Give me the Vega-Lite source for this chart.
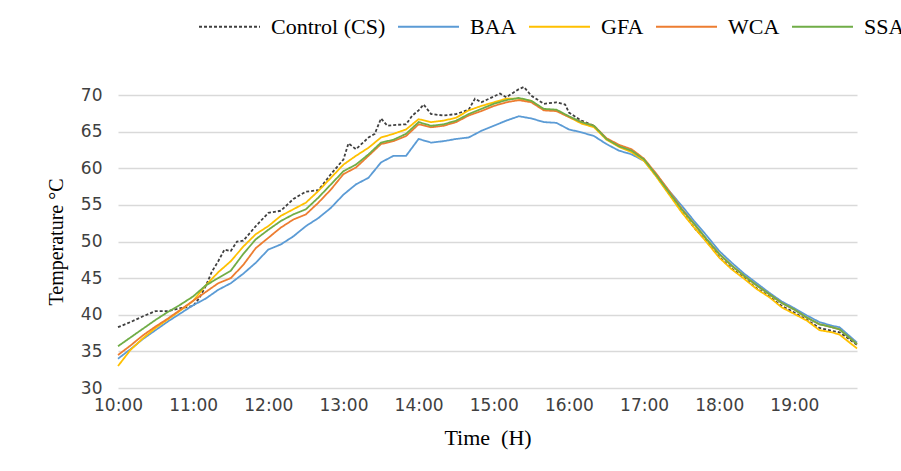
{
  "$schema": "https://vega.github.io/schema/vega-lite/v6.json",
  "width": 739,
  "height": 293,
  "autosize": {"type": "none"},
  "padding": {"left": 118, "top": 95, "right": 44, "bottom": 83},
  "background": "white",
  "config": {
    "view": {"stroke": null}
  },
  "data": {
    "values": [
      {"t": "2020-01-01T10:00", "CS": 38.3, "BAA": 34.0, "GFA": 33.0, "WCA": 34.5, "SSA": 35.7},
      {"t": "2020-01-01T10:10", "CS": 39.0, "BAA": 35.3, "GFA": 35.2, "WCA": 35.8, "SSA": 36.9},
      {"t": "2020-01-01T10:20", "CS": 39.8, "BAA": 36.7, "GFA": 36.8, "WCA": 37.2, "SSA": 38.1},
      {"t": "2020-01-01T10:30", "CS": 40.5, "BAA": 37.9, "GFA": 38.2, "WCA": 38.4, "SSA": 39.3},
      {"t": "2020-01-01T10:40", "CS": 40.5, "BAA": 39.1, "GFA": 39.4, "WCA": 39.5, "SSA": 40.4},
      {"t": "2020-01-01T10:50", "CS": 40.9, "BAA": 40.2, "GFA": 40.6, "WCA": 40.7, "SSA": 41.4},
      {"t": "2020-01-01T11:00", "CS": 41.2, "BAA": 41.3, "GFA": 41.9, "WCA": 41.9, "SSA": 42.5},
      {"t": "2020-01-01T11:05", "CS": 42.3},
      {"t": "2020-01-01T11:10", "CS": 43.9, "BAA": 42.2, "GFA": 44.0, "WCA": 43.1, "SSA": 44.0},
      {"t": "2020-01-01T11:15", "CS": 45.9},
      {"t": "2020-01-01T11:20", "CS": 47.3, "BAA": 43.4, "GFA": 45.8, "WCA": 44.3, "SSA": 45.0},
      {"t": "2020-01-01T11:25", "CS": 48.9},
      {"t": "2020-01-01T11:30", "CS": 48.7, "BAA": 44.3, "GFA": 47.3, "WCA": 45.0, "SSA": 46.0},
      {"t": "2020-01-01T11:35", "CS": 50.0},
      {"t": "2020-01-01T11:40", "CS": 50.1, "BAA": 45.6, "GFA": 49.3, "WCA": 46.8, "SSA": 48.3},
      {"t": "2020-01-01T11:50", "CS": 52.1, "BAA": 47.1, "GFA": 51.0, "WCA": 49.1, "SSA": 50.3},
      {"t": "2020-01-01T12:00", "CS": 53.9, "BAA": 48.9, "GFA": 52.1, "WCA": 50.5, "SSA": 51.6},
      {"t": "2020-01-01T12:10", "CS": 54.2, "BAA": 49.6, "GFA": 53.5, "WCA": 51.9, "SSA": 52.8},
      {"t": "2020-01-01T12:20", "CS": 55.8, "BAA": 50.7, "GFA": 54.4, "WCA": 53.0, "SSA": 53.7},
      {"t": "2020-01-01T12:30", "CS": 56.8, "BAA": 52.1, "GFA": 55.3, "WCA": 53.7, "SSA": 54.4},
      {"t": "2020-01-01T12:40", "CS": 57.0, "BAA": 53.2, "GFA": 56.9, "WCA": 55.3, "SSA": 56.0},
      {"t": "2020-01-01T12:50", "CS": 59.2, "BAA": 54.6, "GFA": 58.7, "WCA": 57.1, "SSA": 57.8},
      {"t": "2020-01-01T13:00", "CS": 61.2, "BAA": 56.4, "GFA": 60.5, "WCA": 59.2, "SSA": 59.6},
      {"t": "2020-01-01T13:04", "CS": 63.4},
      {"t": "2020-01-01T13:10", "CS": 62.6, "BAA": 57.8, "GFA": 61.7, "WCA": 60.1, "SSA": 60.5},
      {"t": "2020-01-01T13:20", "CS": 64.2, "BAA": 58.7, "GFA": 62.8, "WCA": 61.7, "SSA": 61.9},
      {"t": "2020-01-01T13:25", "CS": 64.7},
      {"t": "2020-01-01T13:30", "CS": 66.8, "BAA": 60.8, "GFA": 64.2, "WCA": 63.3, "SSA": 63.5},
      {"t": "2020-01-01T13:35", "CS": 65.8},
      {"t": "2020-01-01T13:40", "CS": 65.9, "BAA": 61.7, "GFA": 64.7, "WCA": 63.7, "SSA": 63.9},
      {"t": "2020-01-01T13:50", "CS": 66.0, "BAA": 61.7, "GFA": 65.3, "WCA": 64.4, "SSA": 64.7},
      {"t": "2020-01-01T13:55", "CS": 67.2},
      {"t": "2020-01-01T14:00", "CS": 67.9, "BAA": 64.0, "GFA": 66.7, "WCA": 66.0, "SSA": 66.3},
      {"t": "2020-01-01T14:04", "CS": 68.7},
      {"t": "2020-01-01T14:10", "CS": 67.4, "BAA": 63.5, "GFA": 66.3, "WCA": 65.6, "SSA": 65.8},
      {"t": "2020-01-01T14:20", "CS": 67.2, "BAA": 63.7, "GFA": 66.5, "WCA": 65.8, "SSA": 66.0},
      {"t": "2020-01-01T14:30", "CS": 67.4, "BAA": 64.0, "GFA": 66.9, "WCA": 66.3, "SSA": 66.5},
      {"t": "2020-01-01T14:40", "CS": 68.0, "BAA": 64.2, "GFA": 67.9, "WCA": 67.2, "SSA": 67.4},
      {"t": "2020-01-01T14:45", "CS": 69.5},
      {"t": "2020-01-01T14:50", "CS": 69.0, "BAA": 65.1, "GFA": 68.5, "WCA": 67.8, "SSA": 68.1},
      {"t": "2020-01-01T15:00", "CS": 69.8, "BAA": 65.8, "GFA": 69.0, "WCA": 68.5, "SSA": 68.8},
      {"t": "2020-01-01T15:05", "CS": 70.2},
      {"t": "2020-01-01T15:10", "CS": 69.7, "BAA": 66.5, "GFA": 69.5, "WCA": 69.0, "SSA": 69.3},
      {"t": "2020-01-01T15:20", "CS": 70.8, "BAA": 67.1, "GFA": 69.5, "WCA": 69.3, "SSA": 69.6},
      {"t": "2020-01-01T15:24", "CS": 71.1},
      {"t": "2020-01-01T15:30", "CS": 69.9, "BAA": 66.8, "GFA": 69.2, "WCA": 69.0, "SSA": 69.2},
      {"t": "2020-01-01T15:40", "CS": 68.8, "BAA": 66.3, "GFA": 68.0, "WCA": 67.9, "SSA": 68.1},
      {"t": "2020-01-01T15:50", "CS": 69.0, "BAA": 66.2, "GFA": 67.9, "WCA": 67.8, "SSA": 68.0},
      {"t": "2020-01-01T15:57", "CS": 68.7},
      {"t": "2020-01-01T16:00", "CS": 67.6, "BAA": 65.3, "GFA": 67.0, "WCA": 67.0, "SSA": 67.1},
      {"t": "2020-01-01T16:10", "CS": 66.5, "BAA": 64.9, "GFA": 66.1, "WCA": 66.3, "SSA": 66.3},
      {"t": "2020-01-01T16:20", "CS": 65.8, "BAA": 64.4, "GFA": 65.6, "WCA": 65.8, "SSA": 65.8},
      {"t": "2020-01-01T16:30", "CS": 64.0, "BAA": 63.3, "GFA": 63.9, "WCA": 64.1, "SSA": 64.0},
      {"t": "2020-01-01T16:40", "CS": 63.0, "BAA": 62.4, "GFA": 62.9, "WCA": 63.2, "SSA": 63.0},
      {"t": "2020-01-01T16:50", "CS": 62.3, "BAA": 61.9, "GFA": 62.2, "WCA": 62.6, "SSA": 62.4},
      {"t": "2020-01-01T17:00", "CS": 61.1, "BAA": 61.0, "GFA": 61.0, "WCA": 61.3, "SSA": 61.2},
      {"t": "2020-01-01T17:10", "CS": 58.9, "BAA": 59.1, "GFA": 58.8, "WCA": 59.2, "SSA": 59.0},
      {"t": "2020-01-01T17:20", "CS": 56.5, "BAA": 56.9, "GFA": 56.4, "WCA": 56.9, "SSA": 56.7},
      {"t": "2020-01-01T17:30", "CS": 54.1, "BAA": 54.9, "GFA": 54.0, "WCA": 54.5, "SSA": 54.4},
      {"t": "2020-01-01T17:40", "CS": 51.9, "BAA": 52.8, "GFA": 51.9, "WCA": 52.4, "SSA": 52.4},
      {"t": "2020-01-01T17:50", "CS": 50.0, "BAA": 50.8, "GFA": 49.9, "WCA": 50.3, "SSA": 50.3},
      {"t": "2020-01-01T18:00", "CS": 47.9, "BAA": 48.7, "GFA": 47.8, "WCA": 48.3, "SSA": 48.3},
      {"t": "2020-01-01T18:10", "CS": 46.3, "BAA": 47.1, "GFA": 46.2, "WCA": 46.7, "SSA": 46.7},
      {"t": "2020-01-01T18:20", "CS": 45.0, "BAA": 45.6, "GFA": 44.9, "WCA": 45.3, "SSA": 45.3},
      {"t": "2020-01-01T18:30", "CS": 43.6, "BAA": 44.3, "GFA": 43.5, "WCA": 44.0, "SSA": 44.0},
      {"t": "2020-01-01T18:40", "CS": 42.5, "BAA": 43.0, "GFA": 42.4, "WCA": 42.8, "SSA": 42.8},
      {"t": "2020-01-01T18:50", "CS": 41.2, "BAA": 41.8, "GFA": 41.0, "WCA": 41.6, "SSA": 41.6},
      {"t": "2020-01-01T19:00", "CS": 40.3, "BAA": 40.9, "GFA": 40.1, "WCA": 40.7, "SSA": 40.7},
      {"t": "2020-01-01T19:10", "CS": 39.3, "BAA": 39.9, "GFA": 39.2, "WCA": 39.6, "SSA": 39.6},
      {"t": "2020-01-01T19:20", "CS": 38.2, "BAA": 39.0, "GFA": 37.9, "WCA": 38.7, "SSA": 38.7},
      {"t": "2020-01-01T19:30", "CS": 37.8, "BAA": 38.5, "GFA": 37.6, "WCA": 38.3, "SSA": 38.3},
      {"t": "2020-01-01T19:36", "CS": 37.6, "BAA": 38.3, "GFA": 37.3, "WCA": 38.0, "SSA": 38.0},
      {"t": "2020-01-01T19:50", "CS": 35.9, "BAA": 36.2, "GFA": 35.4, "WCA": 36.0, "SSA": 36.0}
    ]
  },
  "transform": [
    {"fold": ["CS", "BAA", "GFA", "WCA", "SSA"], "as": ["series", "value"]},
    {"filter": "isValid(datum.value)"}
  ],
  "mark": {"type": "line", "strokeWidth": 1.8},
  "encoding": {
    "x": {
      "field": "t",
      "type": "temporal",
      "scale": {
        "domain": [
          {"year": 2020, "month": 1, "date": 1, "hours": 10},
          {"year": 2020, "month": 1, "date": 1, "hours": 19, "minutes": 50}
        ],
        "nice": false
      },
      "axis": {
        "title": "Time\u00a0\u00a0(H)",
        "format": "%H:%M",
        "values": [
          {"year": 2020, "month": 1, "date": 1, "hours": 10},
          {"year": 2020, "month": 1, "date": 1, "hours": 11},
          {"year": 2020, "month": 1, "date": 1, "hours": 12},
          {"year": 2020, "month": 1, "date": 1, "hours": 13},
          {"year": 2020, "month": 1, "date": 1, "hours": 14},
          {"year": 2020, "month": 1, "date": 1, "hours": 15},
          {"year": 2020, "month": 1, "date": 1, "hours": 16},
          {"year": 2020, "month": 1, "date": 1, "hours": 17},
          {"year": 2020, "month": 1, "date": 1, "hours": 18},
          {"year": 2020, "month": 1, "date": 1, "hours": 19}
        ],
        "grid": false,
        "domain": false,
        "ticks": false,
        "labelFont": "DejaVu Sans",
        "labelFontSize": 17,
        "labelColor": "#404040",
        "labelPadding": 9,
        "labelFlush": false,
        "labelOverlap": false,
        "titleFont": "Liberation Serif",
        "titleFontSize": 22,
        "titleFontWeight": "normal",
        "titleColor": "#000000",
        "titlePadding": 14
      }
    },
    "y": {
      "field": "value",
      "type": "quantitative",
      "scale": {"domain": [30, 70], "nice": false, "zero": false},
      "axis": {
        "title": "Temperature °C",
        "values": [30, 35, 40, 45, 50, 55, 60, 65, 70],
        "domain": false,
        "ticks": false,
        "gridColor": "#d9d9d9",
        "gridWidth": 1.5,
        "labelFont": "DejaVu Sans",
        "labelFontSize": 17,
        "labelColor": "#404040",
        "labelPadding": 16,
        "titleFont": "Liberation Serif",
        "titleFontSize": 20,
        "titleFontWeight": "normal",
        "titleColor": "#000000",
        "titlePadding": 14
      }
    },
    "color": {
      "field": "series",
      "type": "nominal",
      "scale": {
        "domain": ["CS", "BAA", "GFA", "WCA", "SSA"],
        "range": ["#404040", "#5B9BD5", "#FFC000", "#ED7D31", "#70AD47"]
      },
      "legend": {
        "title": null,
        "orient": "none",
        "legendX": 80,
        "legendY": -100,
        "direction": "horizontal",
        "symbolType": "stroke",
        "symbolSize": 3721,
        "symbolStrokeWidth": 2,
        "labelFont": "Liberation Serif",
        "labelFontSize": 22,
        "labelColor": "#000000",
        "labelOffset": 10,
        "labelLimit": 300,
        "columnPadding": 8,
        "labelExpr": "datum.label == 'CS' ? 'Control (CS)' : datum.label"
      }
    },
    "strokeDash": {
      "field": "series",
      "type": "nominal",
      "scale": {
        "domain": ["CS", "BAA", "GFA", "WCA", "SSA"],
        "range": [[3, 2], [1, 0], [1, 0], [1, 0], [1, 0]]
      },
      "legend": {
        "title": null,
        "orient": "none",
        "legendX": 80,
        "legendY": -100,
        "direction": "horizontal",
        "symbolType": "stroke",
        "symbolSize": 3721,
        "symbolStrokeWidth": 2,
        "labelFont": "Liberation Serif",
        "labelFontSize": 22,
        "labelColor": "#000000",
        "labelOffset": 10,
        "labelLimit": 300,
        "columnPadding": 8,
        "labelExpr": "datum.label == 'CS' ? 'Control (CS)' : datum.label"
      }
    }
  }
}
